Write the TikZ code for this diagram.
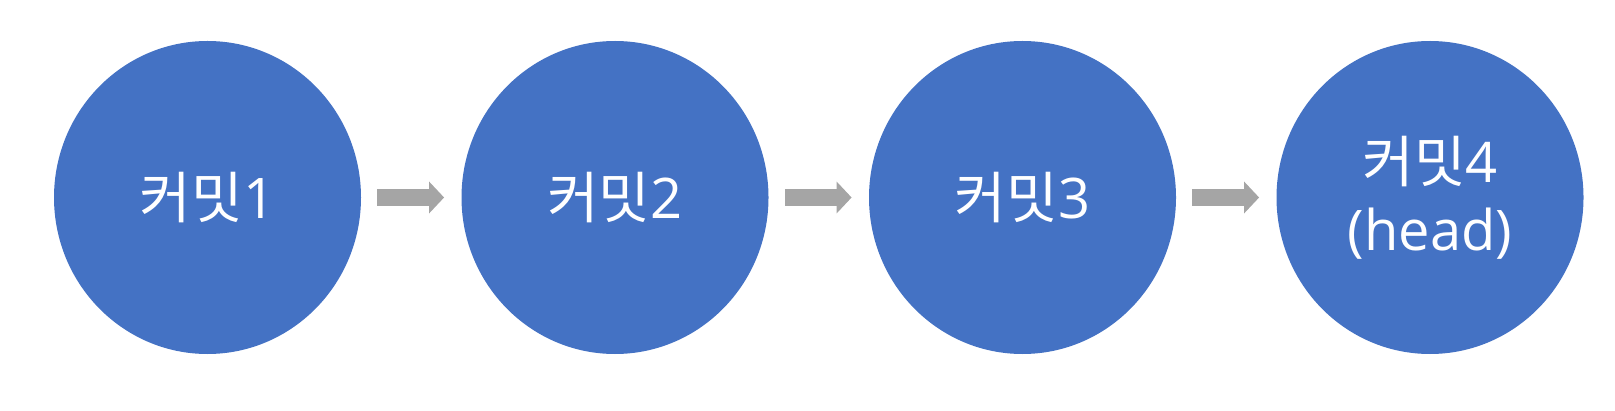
\documentclass[tikz,border=0pt]{standalone}
\usepackage{fontspec}
\setmainfont{Open Sans}
\newfontfamily\kr{Noto Sans CJK KR}
\usetikzlibrary{arrows.meta,shapes.geometric}
\definecolor{cblue}{HTML}{4472C4}
\definecolor{agray}{HTML}{A5A5A5}
\tikzset{
  commit/.style={ellipse, fill=cblue, draw=none, inner sep=0pt,
    minimum width=153.5pt, minimum height=156.5pt, text=white,
    font=\fontsize{28pt}{34pt}\selectfont, align=center},
  arr/.style={draw=agray, line width=8.5pt,
    -{Triangle[length=7.5pt,width=15.5pt,fill=agray]}}
}
\begin{document}
\begin{tikzpicture}[x=0.5pt,y=-0.5pt]
\useasboundingbox (0,0) rectangle (1615,411);
\node[commit] (c1) at (207.5,197.5) {{\kr 커밋}1};
\node[commit] (c2) at (615,197.5) {{\kr 커밋}2};
\node[commit] (c3) at (1022.5,197.5) {{\kr 커밋}3};
\node[commit] (c4) at (1430,197.5) {{\kr 커밋}4\\(head)};
\draw[arr] ([xshift=8pt]c1.east) -- ([xshift=-8.5pt]c2.west);
\draw[arr] ([xshift=8pt]c2.east) -- ([xshift=-8.5pt]c3.west);
\draw[arr] ([xshift=8pt]c3.east) -- ([xshift=-8.5pt]c4.west);
\end{tikzpicture}
\end{document}
